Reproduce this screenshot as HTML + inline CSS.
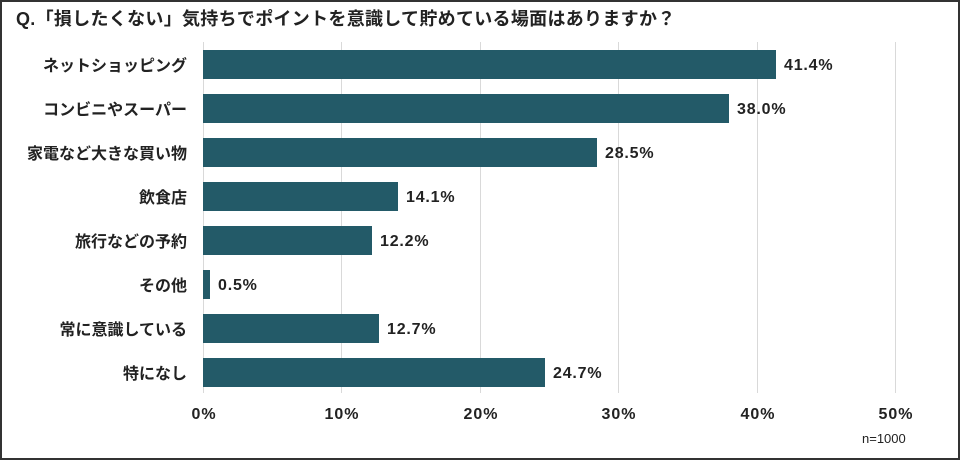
<!DOCTYPE html>
<html><head><meta charset="utf-8"><style>
html,body{margin:0;padding:0;background:#fff}
body{width:960px;height:460px;position:relative;overflow:hidden;font-family:"Liberation Sans","Noto Sans CJK JP",sans-serif}
.frame{position:absolute;left:0;top:0;width:956px;height:456px;border:2px solid #333}
.t{position:absolute;left:16px;top:5px;font-size:18px;font-weight:bold;color:#222;white-space:nowrap;letter-spacing:0.3px}
.g{position:absolute;top:42px;height:351px;width:1px;background:#d9d9d9}
.lab{position:absolute;right:773px;font-size:16px;font-weight:bold;color:#222;white-space:nowrap;transform:translateY(-50%)}
.bar{position:absolute;left:203px;height:29px;background:#235a68}
.v{position:absolute;font-size:16px;font-weight:bold;color:#222;transform:translateY(-50%);letter-spacing:0.8px;margin-top:1px}
.x{position:absolute;top:406px;font-size:16px;font-weight:bold;color:#222;transform:translateX(-50%);letter-spacing:1px}
.n{position:absolute;left:862px;top:431px;font-size:13px;color:#222}
</style></head><body>
<div class="frame"></div>
<div class="t">Q.「損したくない」気持ちでポイントを意識して貯めている場面はありますか？</div>
<div class="g" style="left:203px"></div><div class="g" style="left:341px"></div><div class="g" style="left:480px"></div><div class="g" style="left:618px"></div><div class="g" style="left:757px"></div><div class="g" style="left:895px"></div>

<div class="bar" style="top:50px;width:573px"></div><div class="lab" style="top:64px">ネットショッピング</div><div class="v" style="left:784px;top:65px">41.4%</div>
<div class="bar" style="top:94px;width:526px"></div><div class="lab" style="top:108px">コンビニやスーパー</div><div class="v" style="left:737px;top:109px">38.0%</div>
<div class="bar" style="top:138px;width:394px"></div><div class="lab" style="top:152px">家電など大きな買い物</div><div class="v" style="left:605px;top:153px">28.5%</div>
<div class="bar" style="top:182px;width:195px"></div><div class="lab" style="top:196px">飲食店</div><div class="v" style="left:406px;top:197px">14.1%</div>
<div class="bar" style="top:226px;width:169px"></div><div class="lab" style="top:240px">旅行などの予約</div><div class="v" style="left:380px;top:241px">12.2%</div>
<div class="bar" style="top:270px;width:7px"></div><div class="lab" style="top:284px">その他</div><div class="v" style="left:218px;top:285px">0.5%</div>
<div class="bar" style="top:314px;width:176px"></div><div class="lab" style="top:328px">常に意識している</div><div class="v" style="left:387px;top:329px">12.7%</div>
<div class="bar" style="top:358px;width:342px"></div><div class="lab" style="top:372px">特になし</div><div class="v" style="left:553px;top:373px">24.7%</div>

<div class="x" style="left:204px">0%</div><div class="x" style="left:342px">10%</div><div class="x" style="left:481px">20%</div><div class="x" style="left:619px">30%</div><div class="x" style="left:758px">40%</div><div class="x" style="left:896px">50%</div>
<div class="n">n=1000</div>
</body></html>
